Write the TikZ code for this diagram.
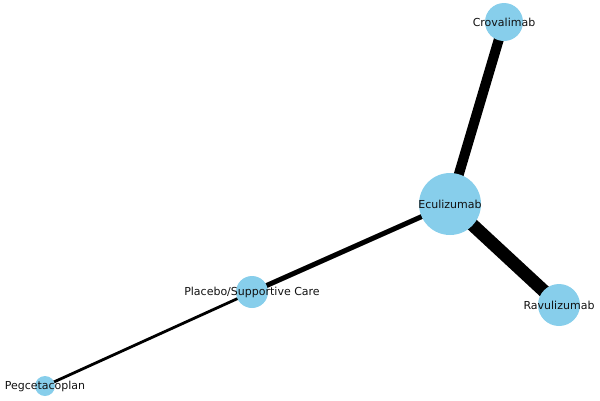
\documentclass[tikz,border=0pt]{standalone}
\usepackage{fontspec}
\setmainfont{DejaVu Sans}
\usetikzlibrary{backgrounds}
\definecolor{skyb}{HTML}{87CEEB}
\definecolor{txt}{HTML}{111111}
\tikzset{
  drug/.style={circle, fill=skyb, draw=none, inner sep=0pt, minimum size=#1},
  lab/.style={font=\fontsize{11}{13}\selectfont, text=txt, inner sep=0pt},
  edge/.style={line width=#1, black}
}
\begin{document}
\begin{tikzpicture}[x=1pt,y=-1pt]
\useasboundingbox (0,0) rectangle (600,400);
\node[drug=38pt, label={[lab]center:Crovalimab}] (cro) at (504,22) {};
\node[drug=62pt, label={[lab]center:Eculizumab}] (ecu) at (450,204) {};
\node[drug=42pt, label={[lab]center:Ravulizumab}] (rav) at (559,305) {};
\node[drug=32pt, label={[lab]center:Placebo/Supportive Care}] (pla) at (252,292) {};
\node[drug=20pt, label={[lab]center:Pegcetacoplan}] (peg) at (45,386) {};
\begin{scope}[on background layer]
\draw[edge=10pt] (cro.center) -- (ecu.center);
\draw[edge=13pt] (ecu.center) -- (rav.center);
\draw[edge=5pt] (ecu.center) -- (pla.center);
\draw[edge=2.8pt] (pla.center) -- (peg.center);
\end{scope}
\end{tikzpicture}
\end{document}
